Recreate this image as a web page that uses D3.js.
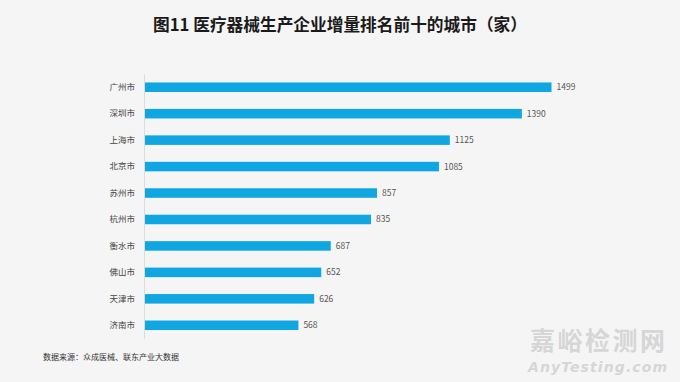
<!DOCTYPE html>
<html>
<head>
<meta charset="utf-8">
<script src="https://cdn.jsdelivr.net/npm/d3@7"></script>
<style>
  body { margin: 0; background: #f5f5f5; }
  svg { display: block; font-family: "Noto Sans CJK SC", "Noto Sans", sans-serif; }
</style>
</head>
<body>
<svg width="680" height="382"></svg>
<script>
var cities = ["广州市", "深圳市", "上海市", "北京市", "苏州市", "杭州市", "衡水市", "佛山市", "天津市", "济南市"];
var counts = [1499, 1390, 1125, 1085, 857, 835, 687, 652, 626, 568];

var svg = d3.select("svg");
svg.append("rect").attr("width", 680).attr("height", 382).attr("fill", "#f5f5f5");

var x0 = 144;
var xscale = d3.scaleLinear().domain([0, 1499]).range([x0, 551.5]);
var yscale = d3.scaleBand().domain(cities).range([74, 338.5]).paddingInner(0.64).paddingOuter(0.32);

// title
svg.append("text")
  .attr("x", 340).attr("y", 31)
  .attr("text-anchor", "middle")
  .attr("font-size", 16.7).attr("font-weight", "bold").attr("fill", "#1a1a1a")
  .text("图11 医疗器械生产企业增量排名前十的城市（家）");

// bars
svg.selectAll("rect.bar").data(counts).enter().append("rect")
  .attr("class", "bar")
  .attr("x", x0)
  .attr("y", function(d, i) { return yscale(cities[i]); })
  .attr("width", function(d) { return xscale(d) - x0; })
  .attr("height", yscale.bandwidth())
  .attr("fill", "#0fa6e2");

// value labels
svg.selectAll("text.val").data(counts).enter().append("text")
  .attr("class", "val")
  .attr("x", function(d) { return xscale(d) + 5; })
  .attr("y", function(d, i) { return yscale(cities[i]) + yscale.bandwidth() / 2; })
  .attr("dy", "0.35em")
  .attr("font-size", 8.5).attr("fill", "#555")
  .text(function(d) { return d; });

// y axis
var y_axis = d3.axisLeft(yscale).tickSize(0).tickPadding(9);
var ax = svg.append("g").attr("transform", "translate(" + x0 + ",0)").call(y_axis);
ax.select(".domain").attr("stroke", "#dcdcdc").attr("stroke-width", 1);
ax.selectAll("text").attr("font-size", 8.5).attr("fill", "#444")
  .attr("font-family", "\"Noto Sans CJK SC\", sans-serif");

// source
svg.append("text")
  .attr("x", 43).attr("y", 360)
  .attr("font-size", 8).attr("fill", "#333")
  .text("数据来源：众成医械、联东产业大数据");

// watermark
svg.append("text")
  .attr("x", 530).attr("y", 350)
  .attr("font-size", 25).attr("font-weight", "bold").attr("fill", "#d6d6d6")
  .attr("textLength", 135)
  .text("嘉峪检测网");
svg.append("text")
  .attr("x", 528).attr("y", 371.5)
  .attr("font-size", 14).attr("font-weight", "bold").attr("font-style", "italic")
  .attr("fill", "#d6d6d6")
  .attr("font-family", "\"DejaVu Sans\", sans-serif")
  .attr("textLength", 139)
  .text("AnyTesting.com");
</script>
</body>
</html>
